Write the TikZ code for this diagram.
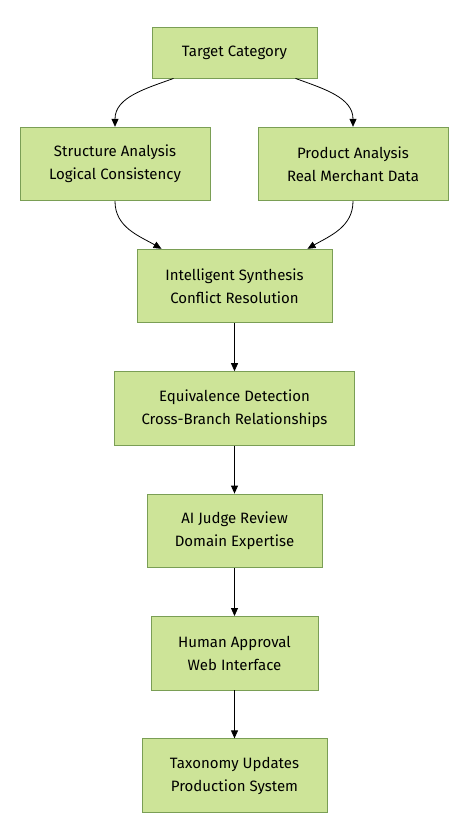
\documentclass[tikz,border=0pt]{standalone}
\usepackage{fontspec}
\setmainfont{Fira Sans}
\usepackage{tikz}
\usetikzlibrary{arrows.meta,positioning}

\definecolor{stepfill}{HTML}{CDE498}
\definecolor{stepline}{HTML}{7A9E55}

\begin{document}
\begin{tikzpicture}[
    x=1pt, y=1pt,
    node distance=48pt,
    stepbox/.style={rectangle, draw=stepline, fill=stepfill, line width=0.9pt,
        minimum height=73.5pt, inner xsep=22pt, align=center,
        font=\fontsize{15}{23}\selectfont},
    link/.style={-{Triangle[length=8pt, width=7pt]}, line width=0.8pt},
]
    \useasboundingbox (0,0) rectangle (470,-840);

    \node[stepbox, minimum height=51pt, minimum width=165pt] (target) at (234.5,-52.5) {Target Category};
    \node[stepbox, minimum width=190pt] (structure) at (115,-164) {Structure Analysis\\Logical Consistency};
    \node[stepbox, minimum width=190pt] (product) at (353,-164) {Product Analysis\\Real Merchant Data};
    \node[stepbox, minimum width=195pt] (synth) at (234.5,-286) {Intelligent Synthesis\\Conflict Resolution};
    \node[stepbox, minimum width=240pt, below=of synth] (equiv) {Equivalence Detection\\Cross-Branch Relationships};
    \node[stepbox, minimum width=175pt, below=of equiv] (judge) {AI Judge Review\\Domain Expertise};
    \node[stepbox, minimum width=167pt, below=of judge] (human) {Human Approval\\Web Interface};
    \node[stepbox, minimum width=185pt, below=of human] (updates) {Taxonomy Updates\\Production System};

    \draw[link] ([xshift=-61pt]target.south) to[out=200, in=90] (structure.north);
    \draw[link] ([xshift=61pt]target.south) to[out=-20, in=90] (product.north);
    \draw[link] (structure.south) to[out=-90, in=150] ([xshift=-73pt]synth.north);
    \draw[link] (product.south) to[out=-90, in=30] ([xshift=73pt]synth.north);
    \draw[link] (synth) -- (equiv);
    \draw[link] (equiv) -- (judge);
    \draw[link] (judge) -- (human);
    \draw[link] (human) -- (updates);
\end{tikzpicture}
\end{document}
